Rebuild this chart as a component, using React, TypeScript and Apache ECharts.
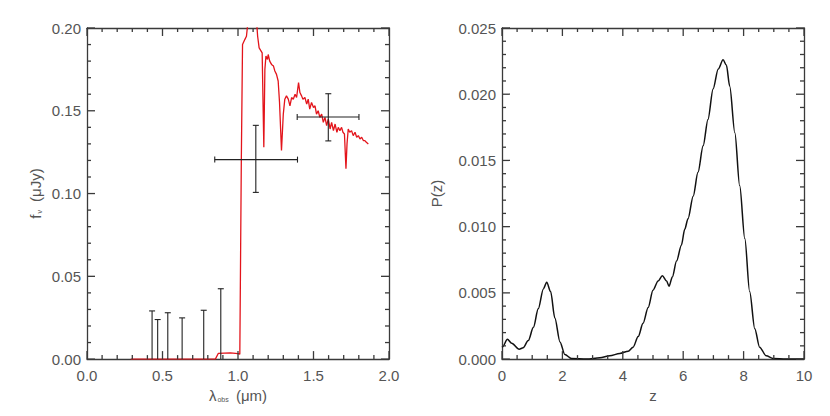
import React, { useEffect, useRef } from "react";
import * as echarts from "echarts";

// ---- Left panel: SED ----
const specLam = [0.29, 0.4, 0.6, 0.85, 0.87, 0.95, 1.0, 1.012, 1.022, 1.03, 1.045, 1.056, 1.065, 1.08, 1.1, 1.12, 1.13, 1.14, 1.16, 1.171, 1.178, 1.185, 1.195, 1.2, 1.21, 1.222, 1.235, 1.244, 1.255, 1.266, 1.275, 1.288, 1.3, 1.31, 1.321, 1.333, 1.344, 1.355, 1.366, 1.378, 1.388, 1.401, 1.41, 1.421, 1.43, 1.443, 1.455, 1.465, 1.475, 1.487, 1.5, 1.51, 1.52, 1.531, 1.542, 1.554, 1.565, 1.576, 1.587, 1.598, 1.61, 1.62, 1.632, 1.643, 1.655, 1.664, 1.675, 1.686, 1.695, 1.705, 1.715, 1.722, 1.73, 1.74, 1.752, 1.763, 1.775, 1.786, 1.797, 1.808, 1.819, 1.83, 1.84, 1.85, 1.863];
const specFlux = [0, 0, 0, 0, 0.0035, 0.0037, 0.0033, 0.003, 0.12, 0.19, 0.193, 0.195, 0.203, 0.21, 0.206, 0.208, 0.195, 0.188, 0.185, 0.128, 0.175, 0.183, 0.181, 0.184, 0.18, 0.178, 0.177, 0.174, 0.172, 0.168, 0.155, 0.126, 0.148, 0.157, 0.159, 0.157, 0.153, 0.158, 0.157, 0.16, 0.158, 0.167, 0.161, 0.159, 0.157, 0.158, 0.154, 0.157, 0.151, 0.155, 0.152, 0.153, 0.148, 0.15, 0.146, 0.148, 0.143, 0.146, 0.141, 0.145, 0.139, 0.143, 0.138, 0.142, 0.137, 0.14, 0.138, 0.14, 0.137, 0.136, 0.115, 0.13, 0.139, 0.137, 0.138, 0.135, 0.137, 0.134, 0.135, 0.133, 0.134, 0.132, 0.132, 0.131, 0.13];

// upper limits
const ulLam = [0.431, 0.468, 0.535, 0.63, 0.773, 0.886];
const ulVal = [0.0291, 0.0239, 0.028, 0.0249, 0.0295, 0.0425];

// detections with x and y error bars
const phLam = [1.118, 1.598];
const phFlux = [0.1205, 0.1462];
const phLamLo = [0.846, 1.392];
const phLamHi = [1.394, 1.801];
const phFluxLo = [0.1007, 0.1318];
const phFluxHi = [0.1412, 0.1603];

// ---- Right panel: P(z) ----
const zVals = [0.0, 0.02, 0.18, 0.32, 0.57, 0.7, 0.87, 1.04, 1.2, 1.37, 1.48, 1.61, 1.75, 1.92, 2.08, 2.3, 2.8, 3.24, 3.57, 3.9, 4.18, 4.34, 4.51, 4.67, 4.84, 5.0, 5.17, 5.31, 5.45, 5.53, 5.64, 5.78, 5.94, 6.05, 6.16, 6.33, 6.49, 6.66, 6.82, 6.99, 7.16, 7.32, 7.43, 7.54, 7.71, 7.87, 8.04, 8.2, 8.37, 8.53, 8.75, 8.98, 9.4, 10.0];
const pzVals = [0.0009, 0.00093, 0.0015, 0.0012, 0.00075, 0.00085, 0.0014, 0.0024, 0.0038, 0.0053, 0.0058, 0.0051, 0.0031, 0.0013, 0.00035, 0.00005, 0, 0.0001, 0.00025, 0.00043, 0.0006, 0.0009, 0.0017, 0.0027, 0.0039, 0.0052, 0.0059, 0.0063, 0.0059, 0.0055, 0.0062, 0.0074, 0.0086, 0.0098, 0.0106, 0.0123, 0.0141, 0.0161, 0.0181, 0.0204, 0.0219, 0.0226, 0.0222, 0.0206, 0.0171, 0.0131, 0.0091, 0.0051, 0.0023, 0.0009, 0.00025, 0.00005, 0, 0];

// tick values
const leftXTicks = [0, 0.5, 1.0, 1.5, 2.0];
const leftYTicks = [0, 0.05, 0.1, 0.15, 0.2];
const rightXTicks = [0, 2, 4, 6, 8, 10];
const rightYTicks = [0, 0.005, 0.01, 0.015, 0.02, 0.025];
const leftXMinor = 5;
const leftYMinor = 5;
const rightXMinor = 4;
const rightYMinor = 5;

const AX = "#3a3a3a";
const TXT = "#555";
const FONT = "Liberation Sans";

function axisOf(ticks: number[], grid: number, position: string, showLabels: boolean, fmt: (v: number) => string) {
  return {
    type: "value",
    gridIndex: grid,
    position,
    min: ticks[0],
    max: ticks[ticks.length - 1],
    interval: ticks[1] - ticks[0],
    axisLine: { show: true, onZero: false, lineStyle: { color: AX, width: 1.3 } },
    axisTick: { show: false },
    minorTick: { show: false },
    splitLine: { show: false },
    minorSplitLine: { show: false },
    axisLabel: {
      show: showLabels,
      color: TXT,
      fontFamily: FONT,
      fontSize: 15,
      margin: position === "bottom" ? 9 : 6,
      formatter: fmt,
    },
  };
}

function subdivide(t: number[], m: number) {
  const out: { v: number; major: boolean }[] = [];
  for (let i = 0; i < t.length; i++) {
    out.push({ v: t[i], major: true });
    if (i < t.length - 1) {
      const step = (t[i + 1] - t[i]) / m;
      for (let k = 1; k < m; k++) out.push({ v: t[i] + k * step, major: false });
    }
  }
  return out;
}

function tickGraphics(chart: any, xi: number, yi: number, xt: number[], yt: number[], xm: number, ym: number) {
  const finder = { xAxisIndex: xi, yAxisIndex: yi };
  const xa = xt[0], xb = xt[xt.length - 1], ya = yt[0], yb = yt[yt.length - 1];
  const els: any[] = [];
  const st = { stroke: AX, lineWidth: 1.3 };
  subdivide(xt, xm).forEach(({ v, major }) => {
    const len = major ? 8 : 4;
    const b = chart.convertToPixel(finder, [v, ya]);
    const t = chart.convertToPixel(finder, [v, yb]);
    if (!b || !t) return;
    els.push({ type: "line", silent: true, z: 100, shape: { x1: b[0], y1: b[1], x2: b[0], y2: b[1] - len }, style: st });
    els.push({ type: "line", silent: true, z: 100, shape: { x1: t[0], y1: t[1], x2: t[0], y2: t[1] + len }, style: st });
  });
  subdivide(yt, ym).forEach(({ v, major }) => {
    const len = major ? 8 : 4;
    const l = chart.convertToPixel(finder, [xa, v]);
    const r = chart.convertToPixel(finder, [xb, v]);
    if (!l || !r) return;
    els.push({ type: "line", silent: true, z: 100, shape: { x1: l[0], y1: l[1], x2: l[0] + len, y2: l[1] }, style: st });
    els.push({ type: "line", silent: true, z: 100, shape: { x1: r[0], y1: r[1], x2: r[0] - len, y2: r[1] }, style: st });
  });
  return els;
}

export default function App() {
  const ref = useRef<HTMLDivElement>(null);
  useEffect(() => {
    const chart = echarts.init(ref.current!, null, { renderer: "svg" });
    const f1 = (v: number) => v.toFixed(1);
    const f2 = (v: number) => v.toFixed(2);
    const f0 = (v: number) => v.toFixed(0);
    const f3 = (v: number) => v.toFixed(3);

    const ulData = ulLam.map((l, i) => [l, ulVal[i]]);
    const phData = phLam.map((l, i) => [l, phFlux[i], phLamLo[i], phLamHi[i], phFluxLo[i], phFluxHi[i]]);
    const cap = 3;
    const barStyle = { stroke: "#222", lineWidth: 1.1 };

    const option: any = {
      animation: false,
      grid: [
        { left: 79, top: 20, width: 302, height: 333 },
        { left: 494, top: 20, width: 302, height: 333 },
      ],
      xAxis: [
        {
          ...axisOf(leftXTicks, 0, "bottom", true, f1),
          name: "{a|λ}{s|obs}{a| (μm)}",
          nameLocation: "middle",
          nameGap: 26,
          nameTextStyle: {
            rich: {
              a: { fontFamily: FONT, fontSize: 15, color: TXT },
              s: { fontFamily: FONT, fontSize: 7, color: TXT, padding: [7, 3, 0, 1] },
            },
          },
        },
        axisOf(leftXTicks, 0, "top", false, f1),
        {
          ...axisOf(rightXTicks, 1, "bottom", true, f0),
          name: "z",
          nameLocation: "middle",
          nameGap: 26,
          nameTextStyle: { fontFamily: FONT, fontSize: 15, color: TXT },
        },
        axisOf(rightXTicks, 1, "top", false, f0),
      ],
      yAxis: [
        {
          ...axisOf(leftYTicks, 0, "left", true, f2),
          name: "{a|f}{s|ν}{a| (μJy)}",
          nameLocation: "middle",
          nameGap: 44,
          nameRotate: 90,
          nameTextStyle: {
            rich: {
              a: { fontFamily: FONT, fontSize: 15, color: TXT },
              s: { fontFamily: FONT, fontSize: 7, color: TXT, padding: [7, 4, 0, 1] },
            },
          },
        },
        axisOf(leftYTicks, 0, "right", false, f2),
        {
          ...axisOf(rightYTicks, 1, "left", true, f3),
          name: "P(z)",
          nameLocation: "middle",
          nameGap: 58,
          nameRotate: 90,
          nameTextStyle: { fontFamily: FONT, fontSize: 15, color: TXT },
        },
        axisOf(rightYTicks, 1, "right", false, f3),
      ],
      series: [
        {
          type: "line",
          xAxisIndex: 0,
          yAxisIndex: 0,
          data: specLam.map((l, i) => [l, specFlux[i]]),
          showSymbol: false,
          clip: true,
          lineStyle: { color: "#e3141b", width: 1.3 },
          z: 3,
        },
        {
          type: "custom",
          xAxisIndex: 0,
          yAxisIndex: 0,
          data: ulData,
          z: 4,
          renderItem: (params: any, api: any) => {
            const x = api.value(0);
            const y = api.value(1);
            const p0 = api.coord([x, 0]);
            const p1 = api.coord([x, y]);
            return {
              type: "group",
              children: [
                { type: "line", shape: { x1: p0[0], y1: p0[1], x2: p1[0], y2: p1[1] }, style: barStyle },
                { type: "line", shape: { x1: p1[0] - cap, y1: p1[1], x2: p1[0] + cap, y2: p1[1] }, style: barStyle },
              ],
            };
          },
        },
        {
          type: "custom",
          xAxisIndex: 0,
          yAxisIndex: 0,
          data: phData,
          z: 4,
          renderItem: (params: any, api: any) => {
            const x = api.value(0);
            const y = api.value(1);
            const xl = api.coord([api.value(2), y]);
            const xh = api.coord([api.value(3), y]);
            const yl = api.coord([x, api.value(4)]);
            const yh = api.coord([x, api.value(5)]);
            return {
              type: "group",
              children: [
                { type: "line", shape: { x1: xl[0], y1: xl[1], x2: xh[0], y2: xh[1] }, style: barStyle },
                { type: "line", shape: { x1: xl[0], y1: xl[1] - cap, x2: xl[0], y2: xl[1] + cap }, style: barStyle },
                { type: "line", shape: { x1: xh[0], y1: xh[1] - cap, x2: xh[0], y2: xh[1] + cap }, style: barStyle },
                { type: "line", shape: { x1: yl[0], y1: yl[1], x2: yh[0], y2: yh[1] }, style: barStyle },
                { type: "line", shape: { x1: yl[0] - cap, y1: yl[1], x2: yl[0] + cap, y2: yl[1] }, style: barStyle },
                { type: "line", shape: { x1: yh[0] - cap, y1: yh[1], x2: yh[0] + cap, y2: yh[1] }, style: barStyle },
              ],
            };
          },
        },
        {
          type: "line",
          xAxisIndex: 2,
          yAxisIndex: 2,
          data: zVals.map((z, i) => [z, pzVals[i]]),
          showSymbol: false,
          smooth: 0.3,
          smoothMonotone: "x",
          lineStyle: { color: "#111", width: 1.5 },
        },
      ],
    };
    chart.setOption(option);
    try {
      const g = [
        ...tickGraphics(chart, 0, 0, leftXTicks, leftYTicks, leftXMinor, leftYMinor),
        ...tickGraphics(chart, 2, 2, rightXTicks, rightYTicks, rightXMinor, rightYMinor),
      ];
      chart.setOption({ graphic: { elements: g } });
    } catch (e) {
      // ignore
    }
    return () => chart.dispose();
  }, []);
  return <div ref={ref} style={{ width: 814, height: 400 }} />;
}
